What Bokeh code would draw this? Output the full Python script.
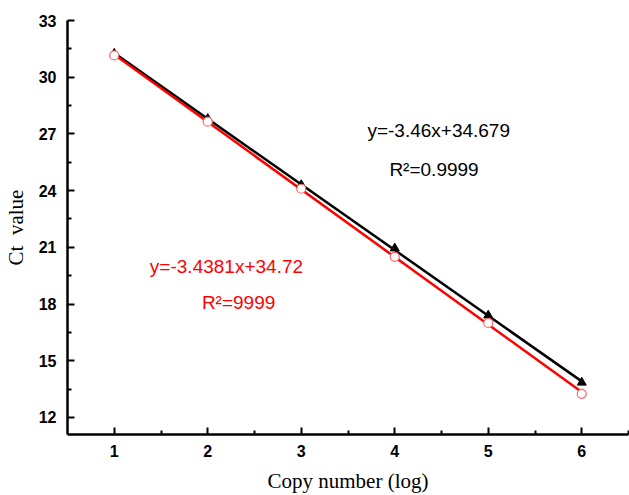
from bokeh.plotting import figure
from bokeh.models import FixedTicker, Label, Range1d
from bokeh.embed import file_html
from bokeh.resources import INLINE
import numpy as np

# Data
copy_log = [1, 2, 3, 4, 5, 6]
ct_black = [31.25, 27.8, 24.3, 20.95, 17.4, 13.85]
ct_red = [31.15, 27.65, 24.1, 20.5, 17.0, 13.25]
x_ticks = [1, 2, 3, 4, 5, 6]
x_minor = [1.5, 2.5, 3.5, 4.5, 5.5, 6.5]
y_ticks = [12, 15, 18, 21, 24, 27, 30, 33]
y_minor = [13.5, 16.5, 19.5, 22.5, 25.5, 28.5, 31.5]
eq_black = "y=-3.46x+34.679"
r2_black = "R\u00b2=0.9999"
eq_red = "y=-3.4381x+34.72"
r2_red = "R\u00b2=9999"

p = figure(width=629, height=495, output_backend="svg", toolbar_location=None,
           x_range=Range1d(0.5, 6.5), y_range=Range1d(11.1, 33),
           min_border_left=66, min_border_right=1, min_border_top=20, min_border_bottom=58)
p.outline_line_color = None
p.xgrid.visible = False
p.ygrid.visible = False
p.background_fill_color = "white"

for ax in (p.xaxis[0], p.yaxis[0]):
    ax.axis_line_width = 2.5
    ax.axis_line_color = "black"
    ax.major_tick_line_width = 2
    ax.minor_tick_line_width = 2
    ax.major_tick_in = 7
    ax.major_tick_out = 0
    ax.minor_tick_in = 4
    ax.minor_tick_out = 0
    ax.major_label_text_font = "Liberation Sans"
    ax.major_label_text_font_style = "bold"
    ax.major_label_text_font_size = "16px"
    ax.major_label_text_color = "black"
    ax.axis_label_text_font = "Liberation Serif"
    ax.axis_label_text_font_style = "normal"
    ax.axis_label_text_font_size = "21px"
    ax.axis_label_text_color = "black"

p.xaxis.ticker = FixedTicker(ticks=x_ticks, minor_ticks=x_minor)
p.yaxis.ticker = FixedTicker(ticks=y_ticks, minor_ticks=y_minor)
p.xaxis.axis_label = "Copy number (log)"
p.yaxis.axis_label = "Ct\u00a0 value"
p.xaxis.major_label_standoff = 10
p.yaxis.major_label_standoff = 11
p.xaxis.axis_label_standoff = 9
p.yaxis.axis_label_standoff = 8

x = np.array(copy_log, dtype=float)
kb, bb = np.polyfit(x, ct_black, 1)
kr, br = np.polyfit(x, ct_red, 1)
xl = [copy_log[0], copy_log[-1]]
p.line(xl, [kb * v + bb for v in xl], line_color="black", line_width=2.5)
p.line(xl, [kr * v + br for v in xl], line_color="red", line_width=2.5)

p.scatter(copy_log, ct_black, marker="triangle", size=9, fill_color="black", line_color="black")
p.scatter(copy_log, ct_red, marker="circle", size=9, fill_color="white", line_color="#ff6666", line_width=1.2)

def lab(xv, yv, txt, col):
    p.add_layout(Label(x=xv, y=yv, text=txt, text_color=col, text_font="Liberation Sans",
                       text_font_size="19px", text_align="center", text_baseline="middle"))

lab(4.47, 27.17, eq_black, "black")
lab(4.42, 25.13, r2_black, "black")
lab(2.20, 19.98, eq_red, "red")
lab(2.33, 18.09, r2_red, "red")

open("out.html", "w").write(file_html(p, INLINE))
